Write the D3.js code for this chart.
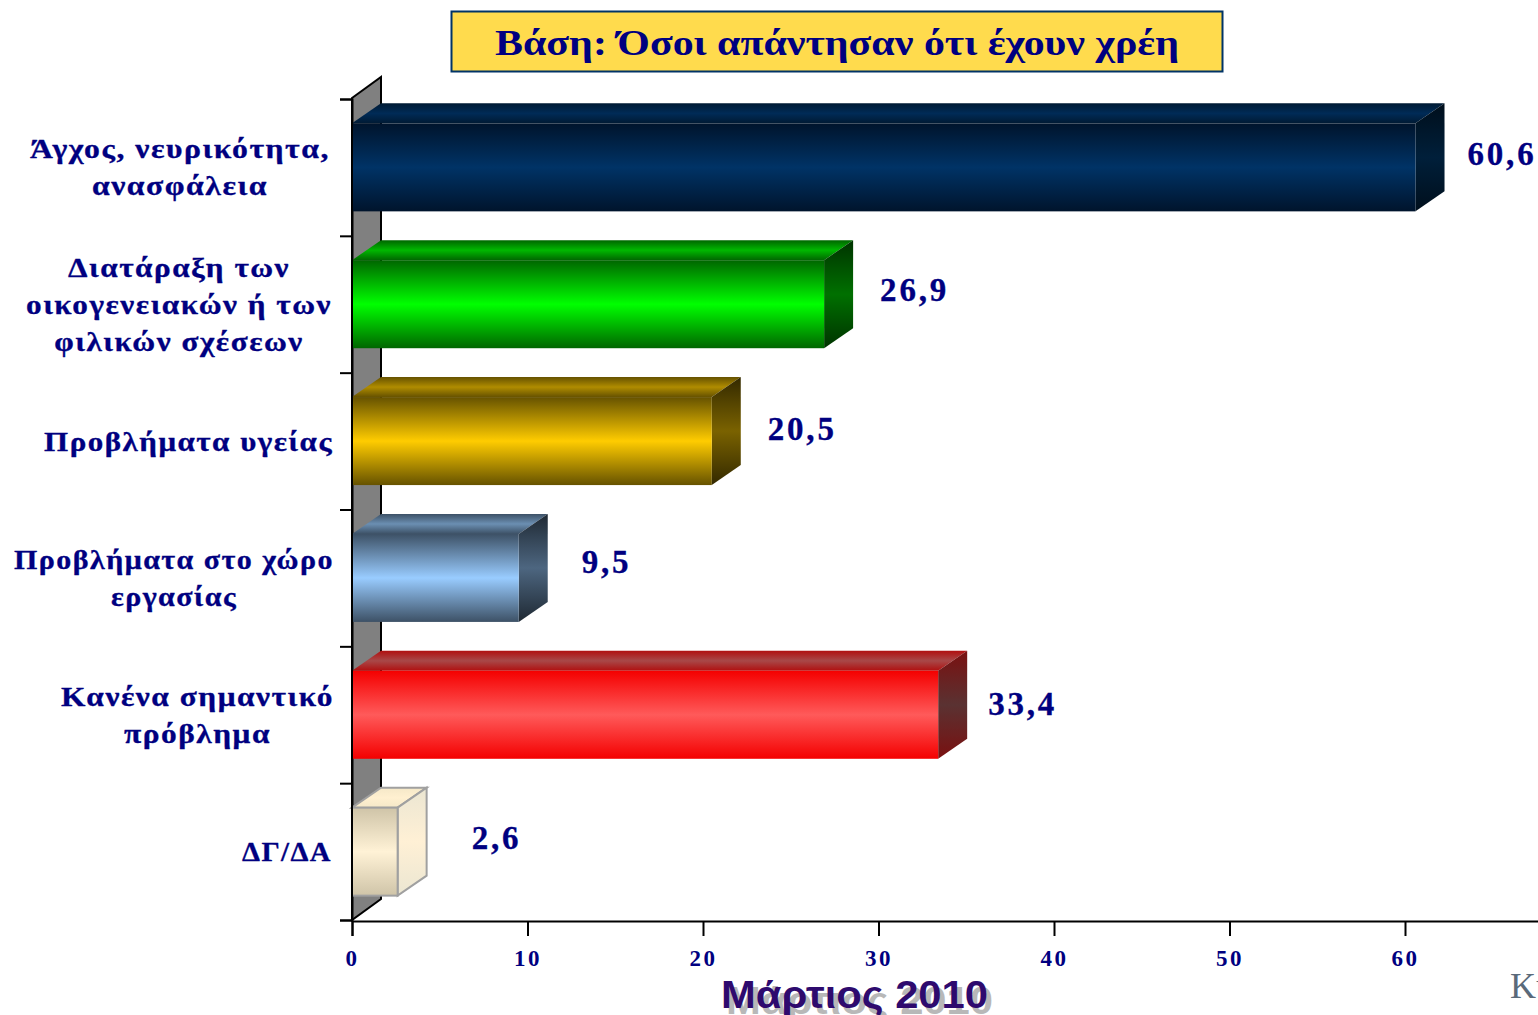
<!DOCTYPE html>
<html><head><meta charset="utf-8">
<style>html,body{margin:0;padding:0;background:#fff;overflow:hidden}svg{display:block}
text{font-family:"Liberation Serif",serif;font-weight:bold}</style>
<script src="https://cdn.jsdelivr.net/npm/d3@7"></script></head>
<body><svg id="c" width="1538" height="1015"></svg>
<script>
const categories=[
 ["Άγχος, νευρικότητα,","ανασφάλεια"],
 ["Διατάραξη των","οικογενειακών ή των","φιλικών σχέσεων"],
 ["Προβλήματα υγείας"],
 ["Προβλήματα στο χώρο","εργασίας"],
 ["Κανένα σημαντικό","πρόβλημα"],
 ["ΔΓ/ΔΑ"]];
const values=[60.6,26.9,20.5,9.5,33.4,2.6];
const valueLabels=["60,6","26,9","20,5","9,5","33,4","2,6"];
const xTicks=[0,10,20,30,40,50,60,70];
const titleText="Βάση: Όσοι απάντησαν ότι έχουν χρέη";
const footerText="Μάρτιος 2010";
const cutText="Κυ";
// per-bar styling: [edge, middle] for front, top, side faces
const faceColors=[
 {front:["#00142c","#003366"],top:["#001a33","#002b57"],side:["#000f1c","#001f3a"]},
 {front:["#006600","#00ff00"],top:["#006600","#00b800"],side:["#003300","#007000"]},
 {front:["#665200","#ffcc00"],top:["#665200","#b08c00"],side:["#332900","#7a6200"]},
 {front:["#3d5166","#99ccff"],top:["#3d5166","#6b8fb2"],side:["#1f2933","#4d6680"]},
 {front:["#f40000","#ff5a5a"],top:["#b01010","#a84848"],side:["#7a1010","#5a3232"]},
 {front:["#cfc4a8","#fff2d6"],top:["#f5e8c8","#fff0d0"],side:["#ebe6d2","#fff0d5"]}];
// manual nudge of the value labels, as in the reference
const valueDx=[52,56,56,63,50,74], valueDy=[-2,-3,-1,-5,0,-3];
// category label blocks: width and right edge as laid out in the reference
const labelBlockW=[300,306,289,320,273,90], labelBlockR=[330,332,333,334,334,332];

const navy="#000080";
const depthX=29, depthY=20;
const x0=352, yTop=99, yBottom=920;
const svg=d3.select("#c"), defs=svg.append("defs");
const x=d3.scaleLinear().domain([0,70]).range([x0,x0+70*17.55]);
const y=d3.scaleBand().domain(d3.range(categories.length)).range([yTop,yBottom]).paddingInner(0.357).paddingOuter(0.178);
const yAxisScale=d3.scaleLinear().domain([0,categories.length]).range([yTop,yBottom]);

function grad(id,e,m){
  const g=defs.append("linearGradient").attr("id",id).attr("x1",0).attr("y1",0).attr("x2",0).attr("y2",1);
  g.append("stop").attr("offset","0%").attr("stop-color",e);
  g.append("stop").attr("offset","50%").attr("stop-color",m);
  g.append("stop").attr("offset","100%").attr("stop-color",e);
}
faceColors.forEach((c,i)=>{["front","top","side"].forEach(f=>grad(f+i,c[f][0],c[f][1]));});

// back wall
svg.append("polygon").attr("points",[[x0,yTop-1],[x0+depthX,yTop-22],[x0+depthX,yBottom-21],[x0,yBottom]].join(" "))
  .attr("fill","#808080").attr("stroke","#000").attr("stroke-width",2);

// axes
const yAxis=d3.axisLeft(yAxisScale).tickValues(d3.range(categories.length+1)).tickSize(12).tickFormat("");
svg.append("g").attr("transform",`translate(${x0},0)`).call(yAxis)
  .call(g=>g.selectAll("path,line").attr("stroke","#000").attr("stroke-width",2));
const xAxis=d3.axisBottom(x).tickValues(xTicks).tickSize(15).tickPadding(14);
svg.append("g").attr("transform",`translate(0,${yBottom+1})`).call(xAxis)
  .call(g=>g.selectAll("path,line").attr("stroke","#000").attr("stroke-width",2))
  .call(g=>g.selectAll("text").attr("fill",navy).attr("font-size",23).attr("font-family","Liberation Serif").attr("font-weight","bold").attr("letter-spacing",2.5));

// bars
const bars=svg.append("g").selectAll("g").data(values).join("g");
bars.append("polygon").attr("fill",(d,i)=>`url(#top${i})`)
 .attr("stroke",(d,i)=>i==5?"#a0a0a0":"none").attr("stroke-width",2)
 .attr("points",(d,i)=>{const t=y(i),X=x(d);return [[x0,t],[x0+depthX,t-depthY],[X+depthX,t-depthY],[X,t]].join(" ");});
bars.append("polygon").attr("fill",(d,i)=>`url(#side${i})`)
 .attr("stroke",(d,i)=>i==5?"#a0a0a0":"none").attr("stroke-width",2)
 .attr("points",(d,i)=>{const t=y(i),b=t+y.bandwidth(),X=x(d);return [[X,t],[X+depthX,t-depthY],[X+depthX,b-depthY],[X,b]].join(" ");});
bars.append("rect").attr("x",x0).attr("y",(d,i)=>y(i)).attr("width",d=>x(d)-x0).attr("height",y.bandwidth())
 .attr("fill",(d,i)=>`url(#front${i})`).attr("stroke",(d,i)=>i==5?"#a0a0a0":"none").attr("stroke-width",2);
svg.append("line").attr("x1",x0).attr("x2",x0).attr("y1",yTop-1).attr("y2",yBottom).attr("stroke","#000").attr("stroke-width",2);

// value labels
svg.append("g").selectAll("text").data(values).join("text")
 .attr("x",(d,i)=>x(d)+valueDx[i]).attr("y",(d,i)=>y(i)+y.bandwidth()/2+valueDy[i])
 .attr("fill",navy).attr("font-size",33).attr("letter-spacing",2.8)
 .attr("stroke",navy).attr("stroke-width",0.3)
 .text((d,i)=>valueLabels[i]);

// category labels, centred inside a block right-aligned to the axis
const lineH=37;
categories.forEach((lines,i)=>{
  const cy=y(i)+y.bandwidth()/2;
  const g=svg.append("g");
  const ts=lines.map((s,k)=>g.append("text").attr("font-size",27).attr("letter-spacing",1.3).attr("fill",navy)
     .attr("stroke",navy).attr("stroke-width",0.3)
     .attr("text-anchor","middle").attr("y",cy+(k-(lines.length-1)/2)*lineH+9.5).text(s));
  const stretch=labelBlockW[i]/d3.max(ts,t=>t.node().getComputedTextLength());
  const cx=labelBlockR[i]-labelBlockW[i]/2;
  ts.forEach(t=>t.attr("transform",`translate(${cx},0) scale(${stretch},1)`));
});

// title
svg.append("rect").attr("x",451.5).attr("y",11.5).attr("width",771).attr("height",60).attr("fill","#ffdb4d").attr("stroke","#003366").attr("stroke-width",2);
svg.append("text").attr("x",495).attr("y",55).attr("font-size",35).attr("fill",navy).attr("textLength",684).attr("lengthAdjust","spacingAndGlyphs").text(titleText);

// footer
[["#b8b8b8",5,6],["#2e0a6e",0,0]].forEach(([c,dx,dy])=>{
 svg.append("text").attr("x",721+dx).attr("y",1008+dy).attr("fill",c).attr("font-size",39)
  .style("font-family","'Liberation Sans',sans-serif").attr("textLength",267).attr("lengthAdjust","spacingAndGlyphs").text(footerText);
});
svg.append("text").attr("x",1510).attr("y",998).attr("font-size",36).attr("fill","#5a6a7a").style("font-weight","normal").text(cutText);
</script></body></html>
